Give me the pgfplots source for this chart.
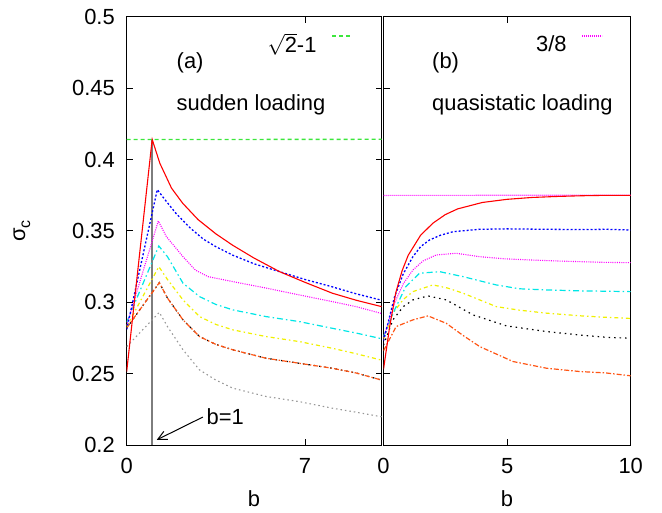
\documentclass[border=0pt]{standalone}
\usepackage{pgfplots}
\pgfplotsset{compat=1.18}
\usepackage{fontspec}
\setmainfont{Liberation Sans}
\usetikzlibrary{arrows.meta}
\newcommand\fs{\fontsize{22}{26}\selectfont}
\definecolor{cRed}{RGB}{255,0,0}
\definecolor{cGreen}{RGB}{60,230,60}
\definecolor{cBlue}{RGB}{0,0,255}
\definecolor{cMag}{RGB}{255,0,255}
\definecolor{cCyan}{RGB}{0,230,230}
\definecolor{cYel}{RGB}{240,240,0}
\definecolor{cOra}{RGB}{255,85,20}
\definecolor{cGray}{RGB}{150,150,150}
\definecolor{cVline}{RGB}{125,125,125}
\pgfplotsset{
  panel/.style={
    scale only axis, height=428bp, ymin=0.2, ymax=0.5,
    ytick={0.2,0.25,0.3,0.35,0.4,0.45,0.5},
    tick align=inside, major tick length=6bp,
    axis line style={line width=1bp},
    every tick/.style={black, line width=1bp},
    tick label style={font=\fs},
    /pgf/number format/assume math mode=true,
    xticklabel style={yshift=-9.7bp},
    yticklabel style={xshift=-8.4bp},
    legend plot pos=right,
    legend image code/.code={\draw[##1] (0bp,8bp) -- (20bp,8bp);},
    legend style={draw=none, fill=none, inner sep=0pt, font=\fs,
      nodes={inner sep=0pt}, /tikz/column 1/.style={column sep=15bp}},
  },
  sgreen/.style={draw=cGreen, line width=1.3bp, dash pattern=on 4bp off 3bp},
  s38/.style={draw=cMag, line width=1.2bp, dash pattern=on 1bp off 1bp},
  sred/.style={cRed, line width=1.1bp},
  sblue/.style={cBlue, line width=1.3bp, dash pattern=on 2bp off 2bp},
  smag/.style={cMag, line width=1.1bp, dash pattern=on 1bp off 1.2bp},
  scyan/.style={cCyan, line width=1.2bp, dash pattern=on 6bp off 3bp on 1.5bp off 3bp},
  syel/.style={cYel, line width=1.2bp, dash pattern=on 4bp off 3bp on 1.5bp off 3bp},
  sblack/.style={black, line width=1.2bp, dash pattern=on 1.5bp off 4bp},
  sora/.style={cOra, line width=1.2bp, dash pattern=on 5bp off 2bp on 1.5bp off 2bp},
  sgray/.style={cGray, line width=1.1bp, dash pattern=on 1.5bp off 3bp},
}
\begin{document}
\begin{tikzpicture}
\path[use as bounding box] (0,0) rectangle (662bp,513bp);
% ---------------- left panel (a)
\begin{axis}[panel, at={(126.7bp,68bp)}, anchor=south west, width=254.8bp,
  xmin=0, xmax=10, xtick={0,7},
  yticklabels={0.2,0.25,0.3,0.35,0.4,0.45,0.5},
  legend style={at={(rel axis cs:0.888,0.937)}, anchor=east}]
\addlegendimage{sgreen}
\addlegendentry{$\sqrt{\mbox{2}}$-1}
\addplot[cVline, line width=2bp, forget plot] coordinates {(1,0.2)(1,0.4142)};
\addplot[sgray, forget plot] coordinates {(0,0.269)(1.28,0.293)(1.6,0.283)(2.21,0.2667)(2.86,0.2526)(3.5,0.2455)(4.17,0.2398)(5.47,0.234)(6.77,0.2304)(8.07,0.2258)(9,0.223)(10,0.2198)};
\addplot[sblack, forget plot] coordinates {(0,0.282)(1.28,0.3138)(1.6,0.303)(2.21,0.2877)(2.86,0.276)(3.5,0.2705)(4.17,0.2667)(5.47,0.2608)(6.77,0.2573)(8.07,0.2538)(9,0.2505)(10,0.2455)};
\addplot[sora, forget plot] coordinates {(0,0.282)(1.28,0.3138)(1.6,0.303)(2.21,0.2877)(2.86,0.276)(3.5,0.2705)(4.17,0.2667)(5.47,0.2608)(6.77,0.2573)(8.07,0.2538)(9,0.2505)(10,0.2455)};
\addplot[syel, forget plot] coordinates {(0,0.283)(1.26,0.325)(1.6,0.316)(2.21,0.3017)(2.86,0.29)(3.5,0.2845)(4.17,0.2807)(5.47,0.276)(6.77,0.2725)(8.07,0.2678)(9,0.264)(10,0.2595)};
\addplot[scyan, forget plot] coordinates {(0,0.286)(1.26,0.3395)(1.6,0.332)(2.21,0.3134)(2.86,0.304)(3.5,0.2985)(4.17,0.2947)(5.47,0.29)(6.77,0.2865)(8.07,0.2818)(9,0.2785)(10,0.2745)};
\addplot[smag, forget plot] coordinates {(0,0.284)(1.24,0.357)(1.56,0.346)(2.21,0.332)(2.7,0.3225)(3.2,0.318)(4.17,0.3145)(5.47,0.31)(6.77,0.3052)(8.07,0.3005)(9,0.297)(10,0.2922)};
\addplot[sblue, forget plot] coordinates {(0,0.281)(1.2,0.379)(1.5,0.372)(1.95,0.362)(2.5,0.352)(3,0.3444)(3.5,0.339)(4.17,0.333)(5,0.327)(6,0.3215)(7,0.316)(8,0.3112)(9,0.306)(10,0.3015)};
\addplot[sred, forget plot] coordinates {(0,0.2515)(1,0.4142)(1.3,0.3975)(1.76,0.380)(2.2,0.3694)(2.8,0.358)(3.5,0.348)(4.16,0.340)(5,0.331)(6,0.3215)(7,0.314)(8.07,0.3064)(9,0.3015)(10,0.297)};
\addplot[sgreen, forget plot] coordinates {(0,0.41415)(10,0.41425)};
\draw[line width=1bp, -{Straight Barb[length=9bp,width=9bp]}] (axis cs:2.99,0.2196) -- (axis cs:1.18,0.2036);
\end{axis}
% ---------------- right panel (b)
\begin{axis}[panel, at={(383.5bp,68bp)}, anchor=south west, width=247.2bp,
  xmin=0, xmax=10, xtick={0,5,10}, yticklabels={}, ytick pos=left,
  legend style={at={(rel axis cs:0.888,0.937)}, anchor=east}]
\addlegendimage{s38}
\addlegendentry{3/8}
\addplot[sora, forget plot] coordinates {(0,0.266)(0.51,0.283)(1.19,0.2877)(1.8,0.2905)(2.54,0.2853)(3.2,0.277)(3.89,0.269)(5.24,0.2585)(6.6,0.2538)(7.94,0.2515)(9,0.2505)(10,0.2485)};
\addplot[sblack, forget plot] coordinates {(0,0.270)(0.38,0.2877)(0.8,0.297)(1.19,0.3017)(1.8,0.3045)(2.54,0.3017)(3.62,0.2912)(4.97,0.2835)(6.6,0.2795)(8,0.277)(9,0.2755)(10,0.2748)};
\addplot[syel, forget plot] coordinates {(0,0.274)(0.38,0.2924)(0.8,0.302)(1.19,0.3075)(2,0.3122)(2.6,0.310)(3.22,0.3064)(4.56,0.297)(5.5,0.2945)(6.6,0.2924)(8,0.2905)(9,0.2895)(10,0.2887)};
\addplot[scyan, forget plot] coordinates {(0,0.276)(0.45,0.2947)(0.9,0.311)(1.46,0.3204)(2.27,0.3215)(3.22,0.318)(4.56,0.3122)(5.5,0.3095)(6.6,0.3087)(8,0.308)(9,0.3078)(10,0.3075)};
\addplot[smag, forget plot] coordinates {(0,0.275)(0.45,0.2996)(0.8,0.313)(1.19,0.3227)(1.6,0.329)(2.13,0.3332)(2.94,0.3344)(3.89,0.332)(4.9,0.3305)(5.92,0.3297)(7,0.329)(7.94,0.3285)(9,0.328)(10,0.3278)};
\addplot[sblue, forget plot] coordinates {(0,0.273)(0.45,0.304)(0.8,0.32)(1.19,0.332)(1.5,0.339)(1.86,0.3437)(2.3,0.347)(2.81,0.3495)(3.89,0.3512)(5,0.3515)(6.6,0.3512)(8,0.351)(9,0.3512)(10,0.3507)};
\addplot[s38, forget plot] coordinates {(0,0.37495)(10,0.37505)};
\addplot[sred, forget plot] coordinates {(0,0.253)(0.25,0.283)(0.5,0.307)(0.75,0.322)(1,0.333)(1.5,0.347)(2,0.3555)(2.5,0.3615)(3,0.3655)(4,0.370)(5,0.3722)(6,0.3735)(7,0.3742)(8,0.3747)(9,0.375)(10,0.375)};
\end{axis}
% ---------------- texts
\node[font=\fs, anchor=base west, inner sep=0pt] at (176.5bp,444.7bp) {(a)};
\node[font=\fs, anchor=base west, inner sep=0pt] at (176.5bp,402bp) {sudden loading};
\node[font=\fs, anchor=base west, inner sep=0pt] at (432bp,444.7bp) {(b)};
\node[font=\fs, anchor=base west, inner sep=0pt] at (432bp,402bp) {quasistatic loading};
\node[font=\fs, anchor=base west, inner sep=0pt] at (206.5bp,88bp) {b=1};
\node[font=\fs, anchor=base, inner sep=0pt] at (254bp,7bp) {b};
\node[font=\fs, anchor=base, inner sep=0pt] at (507bp,7bp) {b};
\node[font=\fs, anchor=base west, inner sep=0pt, rotate=90] at (25bp,271bp) {σ\raisebox{-5bp}{\fontsize{16}{19}\selectfont c}};
\end{tikzpicture}
\end{document}
